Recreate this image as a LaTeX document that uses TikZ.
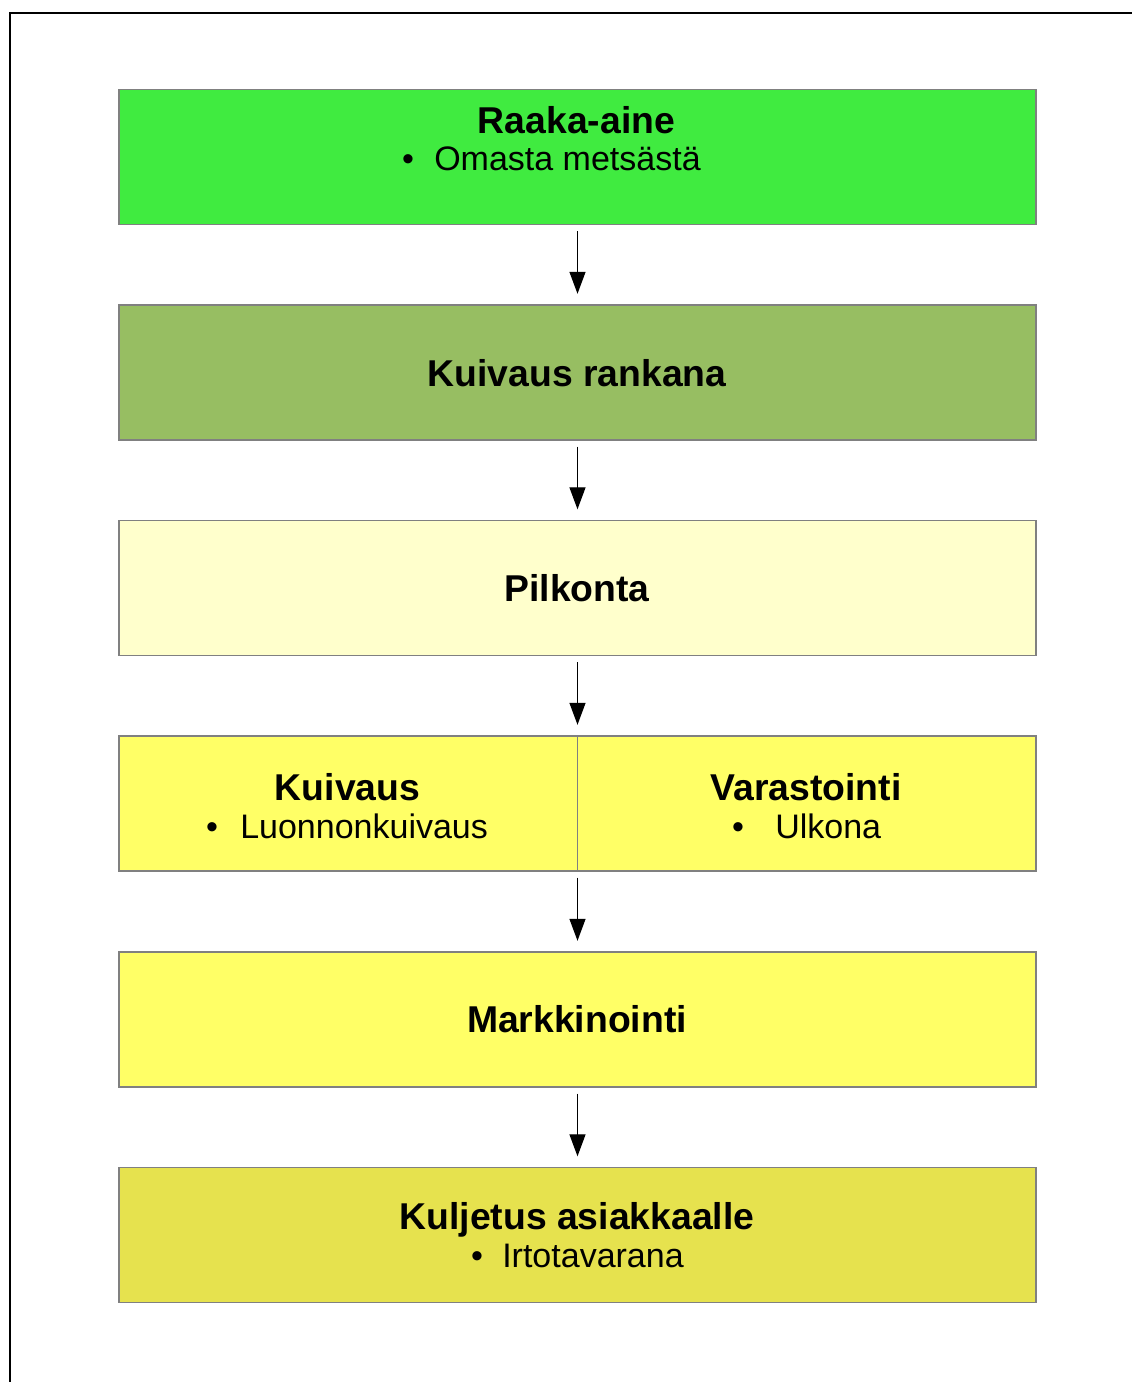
\documentclass[tikz,border=0pt]{standalone}
\usepackage{fontspec}
\setmainfont{Liberation Sans}
\usetikzlibrary{arrows.meta}
\definecolor{cA}{HTML}{40EB40}
\definecolor{cB}{HTML}{97BE62}
\definecolor{cC}{HTML}{FFFFCC}
\definecolor{cD}{HTML}{FFFF66}
\definecolor{cE}{HTML}{E6E24E}
\definecolor{edge}{HTML}{808080}
\begin{document}
\begin{tikzpicture}[x=0.75pt,y=-0.75pt,
  box/.style={draw=edge,line width=0.8pt,minimum width=687.75pt,minimum height=101.25pt,inner sep=0pt},
  ttl/.style={font=\fontsize{28}{30}\selectfont\bfseries,anchor=base,inner sep=0pt},
  itm/.style={font=\fontsize{25.5}{28}\selectfont,anchor=base west,inner sep=0pt},
  bul/.style={font=\fontsize{25.5}{28}\selectfont,anchor=base,inner sep=0pt},
  arr/.style={line width=1pt,-{Triangle[length=16.5pt,width=12pt]},shorten <=4.5pt,shorten >=8pt}]
\useasboundingbox (0,0) rectangle (1132,1382);
\draw[line width=1.6pt] (10,1390) -- (10,13) -- (1140,13);
\node[box,fill=cA] (b1) at (577.5,157) {};
\node[box,fill=cB] (b2) at (577.5,372.5) {};
\node[box,fill=cC] (b3) at (577.5,588) {};
\node[box,fill=cD] (b4) at (577.5,803.5) {};
\node[box,fill=cD] (b5) at (577.5,1019.5) {};
\node[box,fill=cE] (b6) at (577.5,1235) {};
\draw[draw=edge,line width=0.8pt] (b4.north) -- (b4.south);
\node[ttl] (t1) at (576.5,133) {Raaka-aine};
\node[bul] (u1) at (408,170) {•};
\node[itm] (i1) at (434,170) {Omasta metsästä};
\node[ttl] (t2) at (577,386) {Kuivaus rankana};
\node[ttl] (t3) at (577,601) {Pilkonta};
\node[ttl] (t4a) at (347.5,800) {Kuivaus};
\node[bul] (u4a) at (212,838) {•};
\node[itm] (i4a) at (240,838) {Luonnonkuivaus};
\node[ttl] (t4b) at (806,800) {Varastointi};
\node[bul] (u4b) at (738,838) {•};
\node[itm] (i4b) at (775,838) {Ulkona};
\node[ttl] (t5) at (577,1032) {Markkinointi};
\node[ttl] (t6) at (577,1229) {Kuljetus asiakkaalle};
\node[bul] (u6) at (477,1267) {•};
\node[itm] (i6) at (502,1267) {Irtotavarana};
\draw[arr] (b1) -- (b2);
\draw[arr] (b2) -- (b3);
\draw[arr] (b3) -- (b4);
\draw[arr] (b4) -- (b5);
\draw[arr] (b5) -- (b6);
\end{tikzpicture}
\end{document}
